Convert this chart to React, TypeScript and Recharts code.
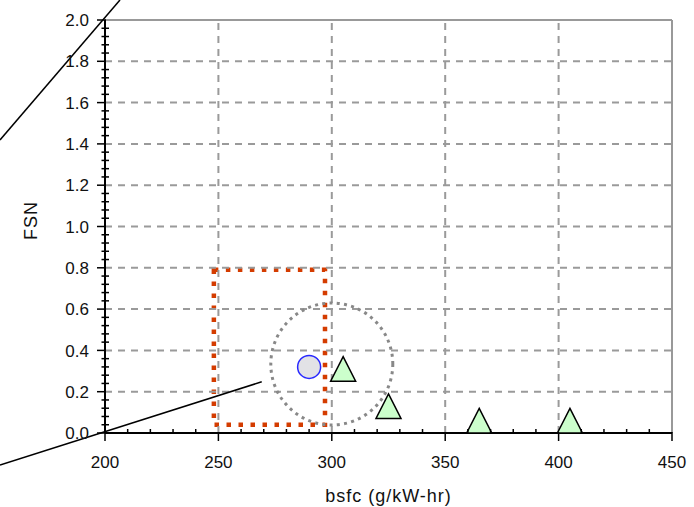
import React from 'react';
import { ScatterChart, Scatter, XAxis, YAxis, ReferenceLine, ReferenceArea, ReferenceDot } from 'recharts';

// ---- data ----
const circleX = [290];
const circleY = [0.32];
const triangleX = [305, 325, 365, 405];
const triangleY = [0.31, 0.13, 0.06, 0.06];

const xMajorTicks = [200, 250, 300, 350, 400, 450];
const xMinorTicks = [200, 210, 220, 230, 240, 250, 260, 270, 280, 290, 300, 310, 320, 330, 340, 350, 360, 370, 380, 390, 400, 410, 420, 430, 440, 450];
const yMajorTicks = [0, 0.2, 0.4, 0.6, 0.8, 1.0, 1.2, 1.4, 1.6, 1.8, 2.0];
const yMinorTicks = [0, 0.04, 0.08, 0.12, 0.16, 0.2, 0.24, 0.28, 0.32, 0.36, 0.4, 0.44, 0.48, 0.52, 0.56, 0.6, 0.64, 0.68, 0.72, 0.76, 0.8, 0.84, 0.88, 0.92, 0.96, 1.0, 1.04, 1.08, 1.12, 1.16, 1.2, 1.24, 1.28, 1.32, 1.36, 1.4, 1.44, 1.48, 1.52, 1.56, 1.6, 1.64, 1.68, 1.72, 1.76, 1.8, 1.84, 1.88, 1.92, 1.96, 2.0];

const gridX = [250, 300, 350, 400];
const gridY = [0.2, 0.4, 0.6, 0.8, 1.0, 1.2, 1.4, 1.6, 1.8];

// annotations (data units)
const boxX = [248, 297];
const boxY = [0.04, 0.79];
const ringCenter = [300, 0.334];
const leaderLine1 = [[153.7, 1.419], [206.6, 2.097]];
const leaderLine2 = [[153.7, -0.155], [269.1, 0.248]];

const xTitle = 'bsfc (g/kW-hr)';
const yTitle = 'FSN';

const circleData = circleX.map((x, i) => ({ x, y: circleY[i] }));
const triangleData = triangleX.map((x, i) => ({ x, y: triangleY[i] }));

const isMajorX = (v: number) => xMajorTicks.some((t) => Math.abs(t - v) < 1e-6);
const isMajorY = (v: number) => yMajorTicks.some((t) => Math.abs(t - v) < 1e-6);

const XTick = (props: any) => {
  const { x, y, payload } = props;
  const v = payload.value;
  const major = isMajorX(v);
  return (
    <g>
      {major ? (
        <line x1={x} x2={x} y1={y - 1} y2={y + 8} stroke="#000" strokeWidth={1.5} />
      ) : (
        <line x1={x} x2={x} y1={y - 4} y2={y} stroke="#000" strokeWidth={1.5} />
      )}
      {major && (
        <text x={x} y={y + 35} textAnchor="middle" fontSize={17} fill="#111">
          {v}
        </text>
      )}
    </g>
  );
};

const YTick = (props: any) => {
  const { x, y, payload } = props;
  const v = payload.value;
  const major = isMajorY(v);
  return (
    <g>
      {major ? (
        <line x1={x - 8} x2={x + 1} y1={y} y2={y} stroke="#000" strokeWidth={1.5} />
      ) : (
        <line x1={x - 3.5} x2={x + 4} y1={y} y2={y} stroke="#000" strokeWidth={1.5} />
      )}
      {major && (
        <text x={x - 16} y={y} dy="0.36em" textAnchor="end" fontSize={17} fill="#111">
          {Number(v).toFixed(1)}
        </text>
      )}
    </g>
  );
};

const TriangleShape = (props: any) => {
  const { cx, cy } = props;
  const h = 12.3;
  return (
    <polygon
      points={`${cx},${cy - h} ${cx + 12.5},${cy + h} ${cx - 12.5},${cy + h}`}
      fill="#ccffcc"
      stroke="#000"
      strokeWidth={1.5}
      strokeLinejoin="miter"
    />
  );
};

const CircleShape = (props: any) => {
  const { cx, cy } = props;
  return <circle cx={cx} cy={cy} r={11.5} fill="#e2e2e6" stroke="#2828ff" strokeWidth={1.5} />;
};

export default function App() {
  return (
    <div style={{ position: 'absolute', left: 0, top: 0, fontFamily: '"Liberation Sans", Arial, sans-serif' }}>
      <ScatterChart width={694} height={507} margin={{ top: 20, right: 22, bottom: 0, left: 0 }}>
        {gridY.map((v) => (
          <ReferenceLine key={'gy' + v} y={v} stroke="#9a9a9a" strokeWidth={2} strokeDasharray="7 6" />
        ))}
        {gridX.map((v) => (
          <ReferenceLine key={'gx' + v} x={v} stroke="#9a9a9a" strokeWidth={2} strokeDasharray="7 6" />
        ))}
        <ReferenceLine y={2} stroke="#999" strokeWidth={2} />
        <ReferenceLine x={450} stroke="#999" strokeWidth={2} />
        <XAxis
          type="number"
          dataKey="x"
          domain={[200, 450]}
          ticks={xMinorTicks}
          interval={0}
          height={74}
          tickSize={0}
          tickMargin={0}
          tickLine={false}
          tick={<XTick />}
          axisLine={{ stroke: '#000', strokeWidth: 2 }}
          label={{ value: xTitle, position: 'insideBottom', offset: 5, fontSize: 18, fill: '#111', letterSpacing: 1 }}
        />
        <YAxis
          type="number"
          dataKey="y"
          domain={[0, 2]}
          ticks={yMinorTicks}
          interval={0}
          width={105}
          tickSize={0}
          tickMargin={0}
          tickLine={false}
          tick={<YTick />}
          axisLine={{ stroke: '#000', strokeWidth: 2 }}
          label={{ value: yTitle, angle: -90, position: 'center', dx: -22, dy: -6, fontSize: 18, fill: '#111', letterSpacing: 1 }}
        />
        <ReferenceArea
          x1={boxX[0]}
          x2={boxX[1]}
          y1={boxY[0]}
          y2={boxY[1]}
          fill="none"
          fillOpacity={0}
          stroke="#d43c00"
          strokeWidth={4.5}
          strokeDasharray="4.5 7.5"
          ifOverflow="visible"
        />
        <ReferenceDot
          x={ringCenter[0]}
          y={ringCenter[1]}
          r={61}
          fill="none"
          stroke="#888"
          strokeWidth={3}
          strokeDasharray="3 4.3"
          ifOverflow="visible"
        />
        <Scatter data={circleData} shape={CircleShape} isAnimationActive={false} />
        <Scatter data={triangleData} shape={TriangleShape} isAnimationActive={false} />
        <ReferenceLine
          segment={[{ x: leaderLine1[0][0], y: leaderLine1[0][1] }, { x: leaderLine1[1][0], y: leaderLine1[1][1] }]}
          stroke="#000"
          strokeWidth={1.5}
          ifOverflow="visible"
        />
        <ReferenceLine
          segment={[{ x: leaderLine2[0][0], y: leaderLine2[0][1] }, { x: leaderLine2[1][0], y: leaderLine2[1][1] }]}
          stroke="#000"
          strokeWidth={1.5}
          ifOverflow="visible"
        />
      </ScatterChart>
    </div>
  );
}
